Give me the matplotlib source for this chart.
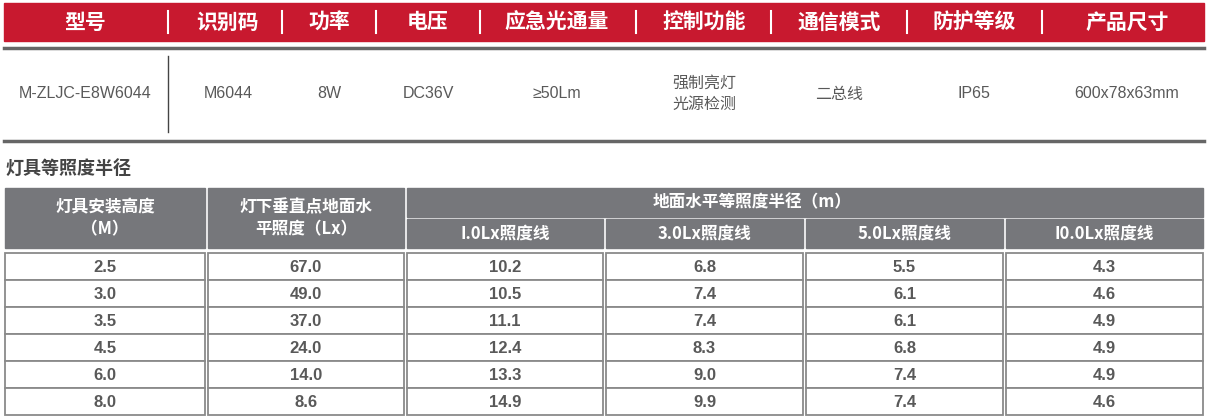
import matplotlib

matplotlib.use("Agg")
import matplotlib.pyplot as plt
from matplotlib.patches import Rectangle

plt.rcParams["font.family"] = ["Noto Sans CJK SC", "DejaVu Sans"]

spec_headers = ["型号", "识别码", "功率", "电压", "应急光通量", "控制功能", "通信模式", "防护等级", "产品尺寸"]
spec_values = ["M-ZLJC-E8W6044", "M6044", "8W", "DC36V", "≥50Lm", "强制亮灯\n光源检测", "二总线", "IP65", "600x78x63mm"]
spec_x = [85, 228, 329, 428, 557, 704, 839, 974, 1127]
spec_seps = [168, 282, 376, 480, 636, 771, 907, 1042]

section_title = "灯具等照度半径"
heights = ["2.5", "3.0", "3.5", "4.5", "6.0", "8.0"]
center_lux = ["67.0", "49.0", "37.0", "24.0", "14.0", "8.6"]
radius_1 = ["10.2", "10.5", "11.1", "12.4", "13.3", "14.9"]
radius_3 = ["6.8", "7.4", "7.4", "8.3", "9.0", "9.9"]
radius_5 = ["5.5", "6.1", "6.1", "6.8", "7.4", "7.4"]
radius_10 = ["4.3", "4.6", "4.9", "4.9", "4.9", "4.6"]
line_labels = ["I.0Lx照度线", "3.0Lx照度线", "5.0Lx照度线", "I0.0Lx照度线"]

RED = "#c8192f"
GRAY = "#76777b"
TXT = "#595959"

fig = plt.figure(figsize=(12.08, 4.18), dpi=100)
ax = fig.add_axes([0, 0, 1, 1])
ax.set_xlim(0, 1208)
ax.set_ylim(418, 0)
ax.axis("off")

# red header bar
ax.add_patch(Rectangle((4, 3), 1200, 38, color=RED))
for x, h in zip(spec_x, spec_headers):
    ax.text(x, 22, h, color="white", fontsize=15, fontweight="bold", ha="center", va="center")
for x in spec_seps:
    ax.plot([x, x], [11, 33], color="white", lw=1.5)

ax.plot([4, 1204], [48, 48], color="#666666", lw=2.5)
ax.plot([4, 1204], [141, 141], color="#666666", lw=2.5)
ax.plot([168, 168], [56, 132], color="#444444", lw=1)
for x, v in zip(spec_x, spec_values):
    ax.text(x, 94, v, color=TXT, fontsize=11.5, ha="center", va="center", linespacing=1.35,
            family=["Liberation Sans", "Noto Sans CJK SC"] if "\n" not in v and v != "二总线" else None)

ax.text(5, 168, section_title, color="#444444", fontsize=13, fontweight="bold", ha="left", va="center")

cols = [(5, 205), (208, 404), (407, 603), (606, 803), (806, 1003), (1006, 1203)]
# header cells
ax.add_patch(Rectangle((cols[0][0], 188), cols[0][1] - cols[0][0], 60, color=GRAY))
ax.add_patch(Rectangle((cols[1][0], 188), cols[1][1] - cols[1][0], 60, color=GRAY))
ax.add_patch(Rectangle((cols[2][0], 188), cols[5][1] - cols[2][0], 29, color=GRAY))
for (x0, x1) in cols[2:]:
    ax.add_patch(Rectangle((x0, 219), x1 - x0, 29, color=GRAY))
ax.text(105, 218, "灯具安装高度\n（M）", color="white", fontsize=12, fontweight="bold",
        ha="center", va="center", linespacing=1.3)
ax.text(306, 218, "灯下垂直点地面水\n平照度（Lx）", color="white", fontsize=12, fontweight="bold",
        ha="center", va="center", linespacing=1.3)
ax.text(752, 202, "地面水平等照度半径（m）", color="white", fontsize=12, fontweight="bold",
        ha="center", va="center")
for (x0, x1), lab in zip(cols[2:], line_labels):
    ax.text((x0 + x1) / 2, 234, lab, color="white", fontsize=12, fontweight="bold", ha="center", va="center")

# body rows
top, rh = 253, 27
columns = [heights, center_lux, radius_1, radius_3, radius_5, radius_10]
for r in range(len(heights)):
    y0 = top + r * rh
    for c, (x0, x1) in enumerate(cols):
        ax.add_patch(Rectangle((x0, y0), x1 - x0, rh, facecolor="white", edgecolor="#8a8a8a", lw=1.3))
        ax.text((x0 + x1) / 2, y0 + rh / 2 + 1, columns[c][r], color=TXT, fontsize=12, fontweight="bold",
                ha="center", va="center", family="Liberation Sans")

fig.savefig("out.png", dpi=100)
